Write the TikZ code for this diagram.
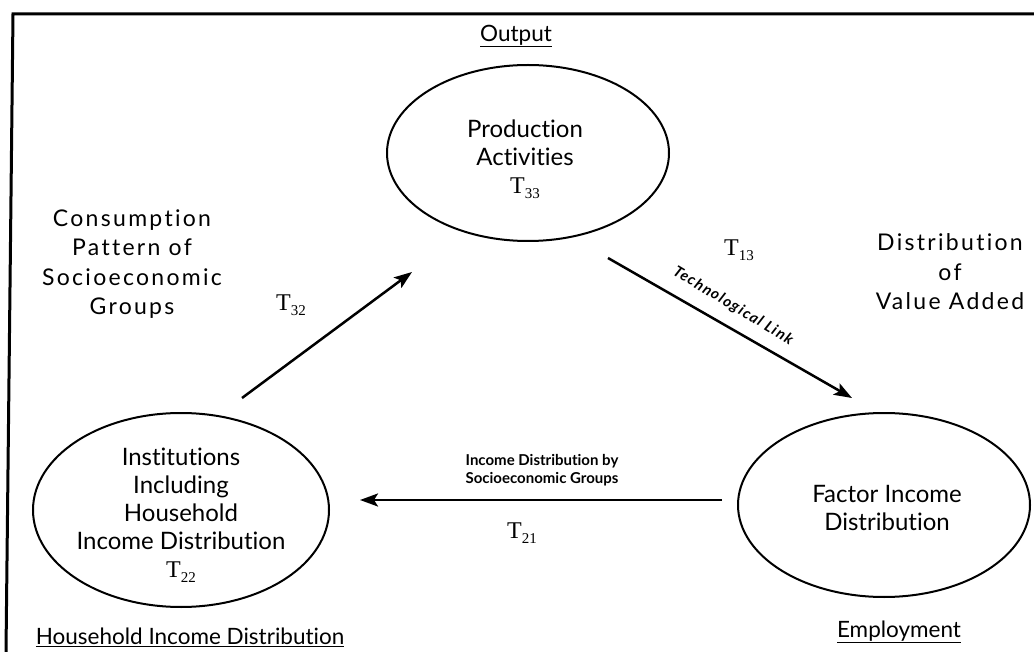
\documentclass[tikz,border=0pt]{standalone}
\usepackage{fontspec}
\setmainfont{Lato}[Ligatures=NoCommon]
\newfontfamily\spacedfont{Lato}[LetterSpace=10,Ligatures=NoCommon]
\newfontfamily\linkfont{Lato}[LetterSpace=9,Ligatures=NoCommon]
\newfontfamily\serifT{Liberation Serif}
\usetikzlibrary{shapes.geometric,arrows.meta}
% T with a lowered numeric index
\newcommand{\Tsub}[1]{{\serifT T\raisebox{-0.45ex}{\fontsize{15}{15}\selectfont #1}}}

\begin{document}
\begin{tikzpicture}[x=1pt,y=-1pt,
  oval/.style={draw, ellipse, line width=2pt, inner sep=0pt},
  bodytext/.style={align=center, font=\fontsize{24}{28}\selectfont},
  sidetext/.style={align=center, font=\spacedfont\fontsize{23}{29.5}\selectfont},
  heading/.style={font=\fontsize{22.5}{26}\selectfont},
  tlabel/.style={font=\fontsize{24}{26}\selectfont},
  linklabel/.style={align=center, font=\bfseries\fontsize{15}{18}\selectfont},
  techlabel/.style={font=\linkfont\bfseries\itshape\fontsize{15}{16}\selectfont},
  flow/.style={line width=2.5pt, -{Stealth[length=18pt,width=13pt,inset=4pt]}},
  frame/.style={line width=3pt}
]
\useasboundingbox (0,0) rectangle (1034,652);

% open frame: top and left edges
\draw[frame] (1034,14) -- (13,14) -- (6,652);

% the three accounts
\node[oval, minimum width=282pt, minimum height=176pt] (prod) at (528,153) {};
\node[oval, minimum width=296pt, minimum height=194pt] (inst) at (181,510) {};
\node[oval, minimum width=292pt, minimum height=184pt] (factor) at (884,505) {};

\node[bodytext] (prodtext) at (525,159) {Production\\Activities\\\Tsub{33}};
\node[bodytext] (insttext) at (181,515) {Institutions\\Including\\Household\\Income Distribution\\\Tsub{22}};
\node[bodytext] (factortext) at (887,508) {Factor Income\\Distribution};

% side descriptions
\node[sidetext] (consume) at (132,264) {Consumption\\Pattern of\\Socioeconomic\\Groups};
\node[sidetext] (valueadd) at (950,272) {Distribution\\of\\Value Added};

% headings
\node[heading] (output) at (516,36) {\underline{Output}};
\node[heading] (household) at (190,637) {\underline{Household Income Distribution}};
\node[heading] (employ) at (899,632) {\underline{Employment}};

% transaction blocks
\node[tlabel] (t32) at (291,305) {\Tsub{32}};
\node[tlabel] (t13) at (739,250) {\Tsub{13}};
\node[tlabel] (t21) at (522,533) {\Tsub{21}};

% flows between accounts
\coordinate (consStart) at (242,398);
\coordinate (consEnd) at (412,272);
\coordinate (techStart) at (608,258);
\coordinate (techEnd) at (852,398);
\coordinate (incStart) at (722,500);
\coordinate (incEnd) at (360,500);

\draw[flow] (consStart) -- (consEnd);
\draw[flow] (techStart) -- (techEnd);
\draw[flow] (incStart) -- (incEnd);

\node[techlabel, rotate=-31] (techlink) at (733,306) {Technological Link};
\node[linklabel] (incomelink) at (542,470) {Income Distribution by\\Socioeconomic Groups};
\end{tikzpicture}
\end{document}
